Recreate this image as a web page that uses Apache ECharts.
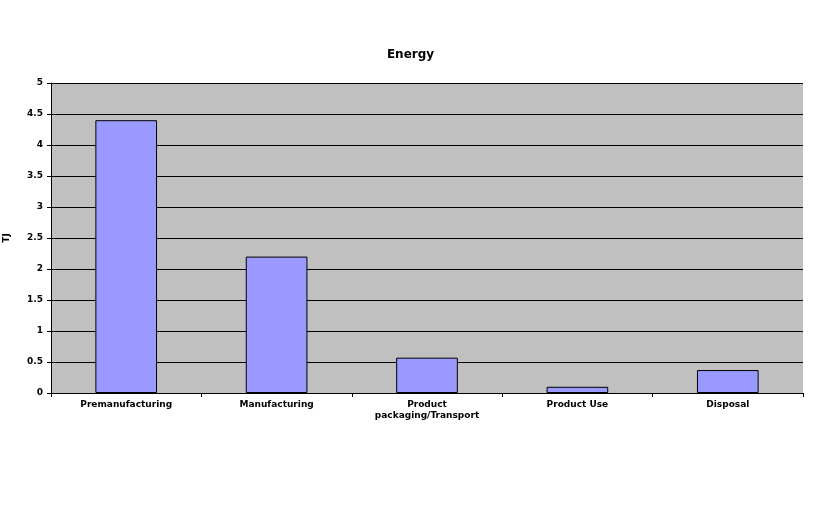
<!DOCTYPE html>
<html><head><meta charset="utf-8">
<script src="https://cdn.jsdelivr.net/npm/echarts@6/dist/echarts.min.js"></script>
<style>html,body{margin:0;padding:0;background:#fff}#c{width:821px;height:512px}</style>
</head><body><div id="c"></div>
<script>
const categories = ['Premanufacturing', 'Manufacturing', 'Product\npackaging/Transport', 'Product Use', 'Disposal'];
const energyTJ = [4.40, 2.20, 0.57, 0.10, 0.37];
const yTicks = [0, 0.5, 1, 1.5, 2, 2.5, 3, 3.5, 4, 4.5, 5];

const chart = echarts.init(document.getElementById('c'));
chart.setOption({
  animation: false,
  title: {text: 'Energy', left: 'center', top: 44, textStyle: {fontFamily: 'DejaVu Sans', fontSize: 12, fontWeight: 'bold', color: '#000'}},
  grid: {left: 51, right: 18, top: 83, bottom: 119, show: true, backgroundColor: '#c0c0c0', borderWidth: 0, containLabel: false, outerBoundsMode: 'none'},
  xAxis: {
    type: 'category', data: categories,
    axisLine: {lineStyle: {color: '#000', width: 1}},
    axisTick: {show: true, alignWithLabel: false, length: 4, lineStyle: {color: '#000'}},
    axisLabel: {fontFamily: 'DejaVu Sans', fontSize: 9, fontWeight: 'bold', color: '#000', margin: 6, lineHeight: 11, interval: 0}
  },
  yAxis: {
    type: 'value', min: 0, max: 5, interval: 0.5,
    name: 'TJ', nameLocation: 'middle', nameGap: 40, nameRotate: 90,
    nameTextStyle: {fontFamily: 'DejaVu Sans', fontSize: 9, fontWeight: 'bold', color: '#000'},
    axisLine: {show: true, lineStyle: {color: '#000', width: 1}},
    axisTick: {show: true, length: 4, lineStyle: {color: '#000'}},
    axisLabel: {fontFamily: 'DejaVu Sans', fontSize: 9, fontWeight: 'bold', color: '#000', margin: 8,
      formatter: v => yTicks.includes(v) ? String(v) : ''},
    splitLine: {show: true, lineStyle: {color: '#000', width: 1}}
  },
  series: [{
    type: 'bar', data: energyTJ, barWidth: '41%',
    itemStyle: {color: '#9999ff', borderColor: '#000', borderWidth: 1}
  }]
});
</script></body></html>
